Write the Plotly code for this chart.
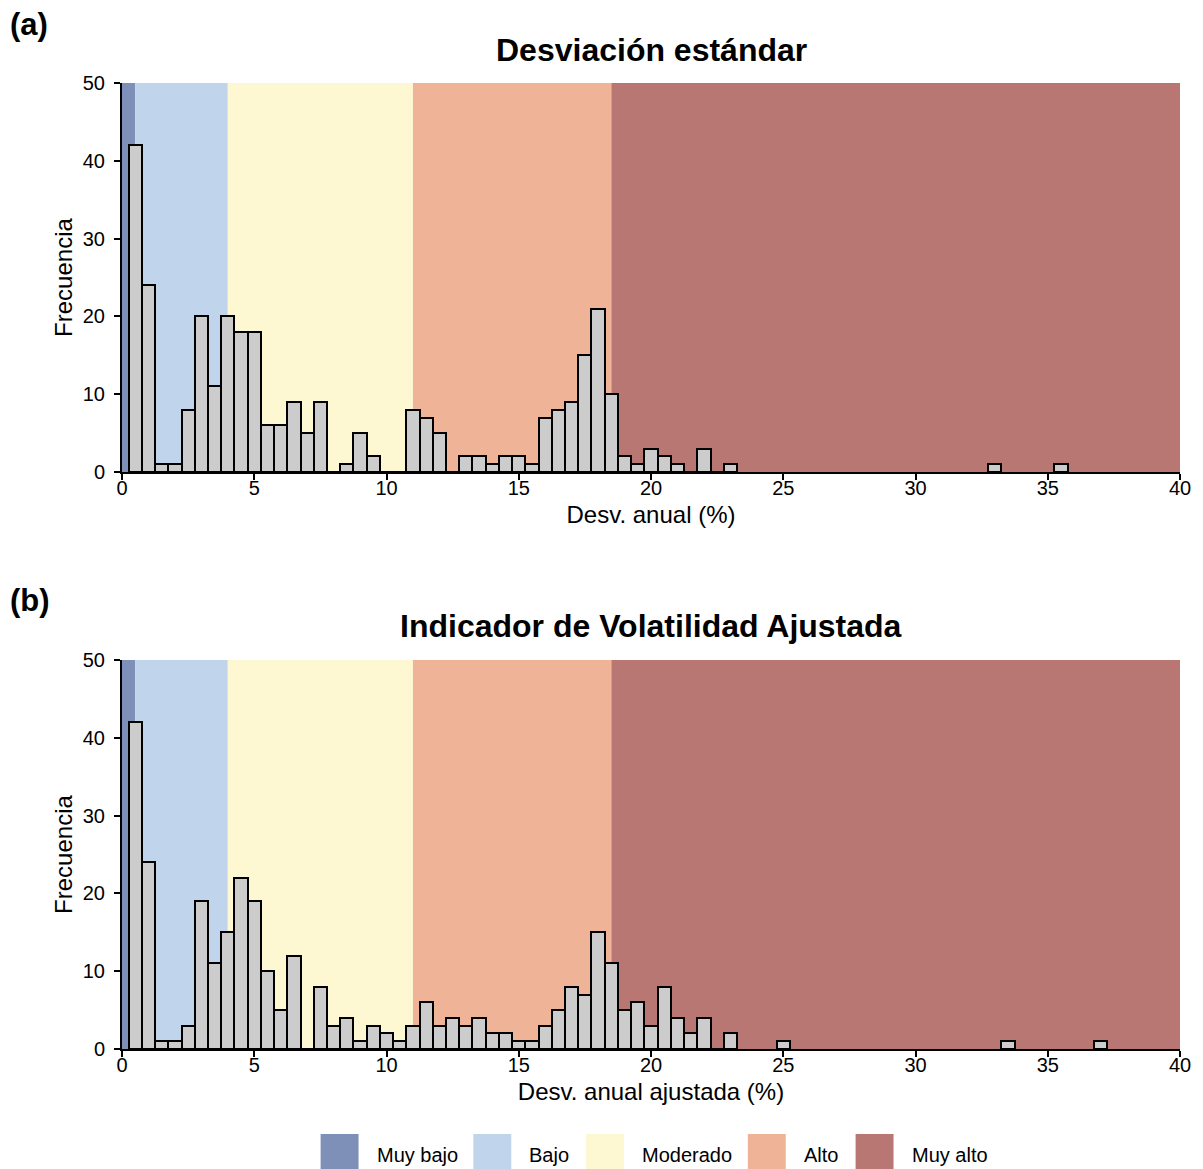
import plotly.graph_objects as go

# ---------------- data ----------------
bin_width = 0.5
# counts for bins centred at 0.5, 1.0, 1.5, ... 23.0
counts_a = [42, 24, 1, 1, 8, 20, 11, 20, 18, 18, 6, 6, 9, 5, 9, 0, 1, 5, 2, 0,
            0, 8, 7, 5, 0, 2, 2, 1, 2, 2, 1, 7, 8, 9, 15, 21, 10, 2, 1, 3,
            2, 1, 0, 3, 0, 1]
outlier_x_a = [33.0, 35.5]
outlier_y_a = [1, 1]

counts_b = [42, 24, 1, 1, 3, 19, 11, 15, 22, 19, 10, 5, 12, 0, 8, 3, 4, 1, 3, 2,
            1, 3, 6, 3, 4, 3, 4, 2, 2, 1, 1, 3, 5, 8, 7, 15, 11, 5, 6, 3,
            8, 4, 2, 4, 0, 2]
outlier_x_b = [25.0, 33.5, 37.0]
outlier_y_b = [1, 1, 1]

band_names = ["Muy bajo", "Bajo", "Moderado", "Alto", "Muy alto"]
band_edges = [0, 0.5, 4, 11, 18.5, 40]
band_colors = ["#7E8FB8", "#C0D4EC", "#FDF7D2", "#EFB398", "#B87772"]

titles = ["Desviación estándar", "Indicador de Volatilidad Ajustada"]
panel_labels = ["(a)", "(b)"]
x_titles = ["Desv. anual (%)", "Desv. anual ajustada (%)"]
y_title = "Frecuencia"
x_ticks = [0, 5, 10, 15, 20, 25, 30, 35, 40]
y_ticks = [0, 10, 20, 30, 40, 50]

# ---------------- layout helpers ----------------
# the page body has an 8px margin, so the figure is shrunk/shifted by 8px
OFF = 8
W, H = 1203 - OFF, 1169 - OFF
PL, PR, PT, PB = 122, 1182, 83, 1049        # plot area in page pixels
L, T = PL - OFF, PT - OFF
R, B = W - (PR - OFF), H - (PB - OFF)
PW, PH = PR - PL, PB - PT


def px_x(p):
    return (p - PL) / PW


def px_y(p):
    return (PB - p) / PH


FONT = "Liberation Sans, Arial, sans-serif"

fig = go.Figure()

panels = [
    (counts_a, outlier_x_a, outlier_y_a, "x", "y"),
    (counts_b, outlier_x_b, outlier_y_b, "x2", "y2"),
]
for counts, ox, oy, xa, ya in panels:
    xs = [bin_width * (i + 1) for i in range(len(counts))] + ox
    ys = list(counts) + oy
    fig.add_trace(go.Bar(
        x=xs, y=ys, width=bin_width, xaxis=xa, yaxis=ya,
        marker=dict(color="#CCCCCC", line=dict(color="black", width=2)),
        showlegend=False, hoverinfo="x+y",
    ))

shapes = []
for xa in ["x", "x2"]:
    for i, c in enumerate(band_colors):
        shapes.append(dict(
            type="rect", xref=xa, yref=("y domain" if xa == "x" else "y2 domain"),
            x0=band_edges[i], x1=band_edges[i + 1], y0=0, y1=1,
            fillcolor=c, line=dict(width=0), layer="below",
        ))

annotations = []
# panel labels and titles
for lab, tit, ylab, ytit in zip(panel_labels, titles, [25, 600], [50, 626]):
    annotations.append(dict(
        text=f"<b>{lab}</b>", xref="paper", yref="paper",
        x=px_x(8), y=px_y(ylab), xanchor="left", yanchor="middle",
        showarrow=False, font=dict(family=FONT, size=31, color="black"),
    ))
    annotations.append(dict(
        text=f"<b>{tit}</b>", xref="paper", yref="paper",
        x=px_x(652), y=px_y(ytit), xanchor="center", yanchor="middle",
        showarrow=False, font=dict(family=FONT, size=32, color="black"),
    ))

# legend (manual, large square swatches)
sw_left = [321, 474, 587, 749, 857]
sw_w, sw_top, sw_bot = 38, 1134, 1169
for name, col, xl in zip(band_names, band_colors, sw_left):
    shapes.append(dict(
        type="rect", xref="paper", yref="paper",
        x0=px_x(xl), x1=px_x(xl + sw_w), y0=px_y(sw_bot), y1=px_y(sw_top),
        fillcolor=col, line=dict(width=0), layer="above",
    ))
    annotations.append(dict(
        text=name, xref="paper", yref="paper",
        x=px_x(xl + sw_w + 16), y=px_y(1155), xanchor="left", yanchor="middle",
        showarrow=False, font=dict(family=FONT, size=20, color="black"),
    ))

axis_common = dict(
    showgrid=False, zeroline=False, showline=True, linecolor="black", linewidth=2,
    ticks="outside", ticklen=6, tickwidth=2, tickcolor="black",
    tickfont=dict(family=FONT, size=20, color="black"),
)
x_common = dict(axis_common, domain=[0, 1], range=[0, 40], tickvals=x_ticks,
                ticklabelstandoff=-9)
y_common = dict(axis_common, range=[0, 50], tickvals=y_ticks,
                ticklabelstandoff=5)

fig.update_layout(
    width=W, height=H,
    margin=dict(l=L, r=R, t=T, b=B),
    paper_bgcolor="white", plot_bgcolor="white",
    bargap=0, barmode="overlay",
    shapes=shapes, annotations=annotations,
    font=dict(family=FONT, color="black"),
    xaxis=dict(x_common, anchor="y",
               title=dict(text=x_titles[0], standoff=8,
                          font=dict(family=FONT, size=24, color="black"))),
    yaxis=dict(y_common, domain=[px_y(472), 1], anchor="x",
               title=dict(text=y_title, standoff=3,
                          font=dict(family=FONT, size=24, color="black"))),
    xaxis2=dict(x_common, anchor="y2",
                title=dict(text=x_titles[1], standoff=8,
                           font=dict(family=FONT, size=24, color="black"))),
    yaxis2=dict(y_common, domain=[0, px_y(660)], anchor="x2",
                title=dict(text=y_title, standoff=3,
                           font=dict(family=FONT, size=24, color="black"))),
)

fig.write_html("out.html")
